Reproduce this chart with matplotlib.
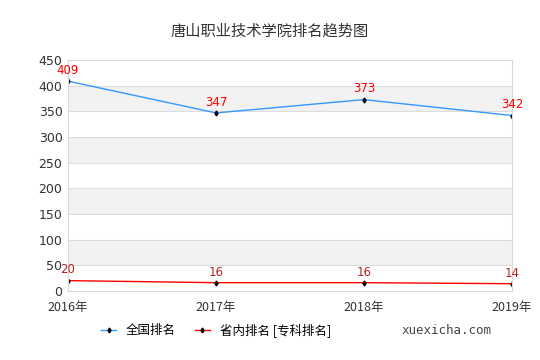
import matplotlib
matplotlib.use("Agg")
import matplotlib.pyplot as plt

plt.rcParams["font.family"] = ["Noto Sans CJK SC", "DejaVu Sans"]

years = ["2016年", "2017年", "2018年", "2019年"]
national = [409, 347, 373, 342]
province = [20, 16, 16, 14]
yticks = [0, 50, 100, 150, 200, 250, 300, 350, 400, 450]

fig = plt.figure(figsize=(5.4, 3.6), dpi=100)
ax = fig.add_axes([0.126, 0.192, 0.822, 0.641])

x = list(range(len(years)))

# alternating bands
for i, lo in enumerate(yticks[:-1]):
    if i % 2 == 1:
        ax.axhspan(lo, lo + 50, color="#f2f2f2", lw=0, zorder=0)
for t in yticks:
    ax.axhline(t, color="#dddddd", lw=0.8, zorder=0.5)

ax.plot(x, national, color="#3399ff", lw=1, zorder=2, label="全国排名",
        marker="d", ms=2.5, mfc="black", mec="black")
ax.plot(x, province, color="#ff0000", lw=1, zorder=2, label="省内排名 [专科排名]",
        marker="d", ms=2.5, mfc="black", mec="black")

for xi, v in zip(x, national):
    ax.annotate(str(v), (xi, v), textcoords="offset points", xytext=(0, 3),
                ha="center", va="bottom", fontsize=8.5, color="#ff0000",
                family="DejaVu Sans")
for xi, v in zip(x, province):
    ax.annotate(str(v), (xi, v), textcoords="offset points", xytext=(0, 3),
                ha="center", va="bottom", fontsize=8.5, color="#b22222",
                family="DejaVu Sans")

ax.set_xlim(0, 3)
ax.set_ylim(0, 450)
ax.set_xticks(x)
ax.set_xticklabels(years, fontsize=9, color="#333333")
ax.set_yticks(yticks)
ax.set_yticklabels([str(t) for t in yticks], fontsize=9, color="#333333",
                   family="DejaVu Sans")
ax.tick_params(length=0, pad=4)
ax.tick_params(axis="x", pad=7)
for s in ax.spines.values():
    s.set_color("#d9d9d9")
    s.set_linewidth(0.8)

fig.text(0.5, 0.915, "唐山职业技术学院排名趋势图", ha="center", va="center",
         fontsize=11, color="#333333")

fig.legend(loc="center", bbox_to_anchor=(0.4, 0.083), ncol=2, frameon=False,
           fontsize=9, handlelength=1.2, columnspacing=1.5)
fig.text(0.827, 0.083, "xuexicha.com", ha="center", va="center",
         fontsize=9, color="#444444", family="DejaVu Sans Mono")

fig.savefig("out.png", dpi=100)
